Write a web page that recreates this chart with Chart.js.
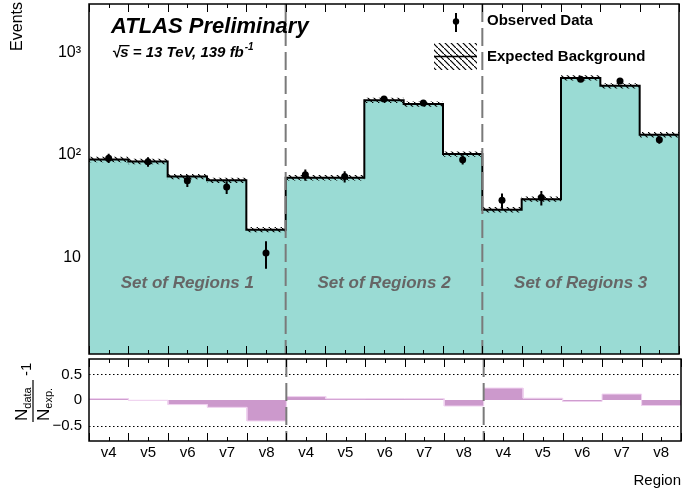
<!DOCTYPE html>
<html>
<head>
<meta charset="utf-8">
<title>Regions</title>
<script src="https://cdn.jsdelivr.net/npm/chart.js@4.4.1/dist/chart.umd.min.js"></script>
<style>
  body { margin: 0; background: #fff; }
  #wrap { position: relative; width: 683px; height: 495px; }
  canvas { position: absolute; left: 0; }
  #mainCanvas { top: 0; }
  #ratioCanvas { top: 358px; }
</style>
</head>
<body>
<div id="wrap">
  <canvas id="mainCanvas" width="683" height="358"></canvas>
  <canvas id="ratioCanvas" width="683" height="137"></canvas>
</div>
<script>
// values
const regions = ['v4', 'v5', 'v6', 'v7', 'v8'];
const setNames = ['Set of Regions 1', 'Set of Regions 2', 'Set of Regions 3'];
const expected = [90.5, 86.5, 61.5, 56.6, 18.6, 60, 60, 343, 315, 102, 29.2, 37, 568, 475, 158];
const expectedErr = [5.4, 5.2, 3.7, 3.4, 1.1, 3.6, 3.6, 20, 19, 6, 1.8, 2.2, 33, 28, 9.5];
const observed = [93, 86, 56, 48.5, 11, 64, 61.5, 352, 323, 90, 36, 38.3, 552, 530, 141];
const observedErr = [9.6, 9.3, 7.5, 7, 3.3, 8, 7.8, 18.8, 18, 9.5, 6, 6.2, 23.5, 23, 11.9];
const logTicks = [10, 100, 1000];
const logTickLabels = ['10', '10\u00b2', '10\u00b3'];
const ratioTicks = [-0.5, 0, 0.5];
const ratioTickLabels = ['\u22120.5', '0', '0.5'];

const binLabels = setNames.flatMap(() => regions);
const nBins = binLabels.length;
const ratio = observed.map((v, i) => v / expected[i] - 1);

const FONT = "'Liberation Sans', Arial, Helvetica, sans-serif";
Chart.defaults.font.family = FONT;
Chart.defaults.color = '#000';

const TEAL = '#9adbd4';
const PINK = '#cc99cc';

// histogram-like step points: each bin goes from i to i+1
function steps(vals) {
  return vals.flatMap((v, i) => [{ x: i, y: v }, { x: i + 1, y: v }]);
}

function hatchPattern(ctx) {
  const s = 6;
  const pc = document.createElement('canvas');
  pc.width = s; pc.height = s;
  const p = pc.getContext('2d');
  p.strokeStyle = '#000';
  p.lineWidth = 1.2;
  p.beginPath();
  p.moveTo(-1, -1); p.lineTo(s + 1, s + 1);
  p.stroke();
  return ctx.createPattern(pc, 'repeat');
}

const mainCtx = document.getElementById('mainCanvas').getContext('2d');
const hatch = hatchPattern(mainCtx);

// ROOT style frame with inside ticks
function drawFrame(chart, yMajor, yMinor) {
  const { ctx, chartArea: a } = chart;
  const xs = chart.scales.x, ys = chart.scales.y;
  ctx.save();
  ctx.strokeStyle = '#000';
  ctx.lineWidth = 1;
  ctx.beginPath();
  for (let i = 0; i <= nBins; i++) {
    const px = Math.round(xs.getPixelForValue(i)) + 0.5;
    ctx.moveTo(px, a.bottom); ctx.lineTo(px, a.bottom - 8);
    ctx.moveTo(px, a.top); ctx.lineTo(px, a.top + 8);
    const pc = Math.round(xs.getPixelForValue(i + 0.5)) + 0.5;
    if (i < nBins) {
      ctx.moveTo(pc, a.bottom); ctx.lineTo(pc, a.bottom - 4);
      ctx.moveTo(pc, a.top); ctx.lineTo(pc, a.top + 4);
    }
  }
  yMajor.forEach(v => {
    const py = Math.round(ys.getPixelForValue(v)) + 0.5;
    ctx.moveTo(a.left, py); ctx.lineTo(a.left + chart.$majorLen, py);
    ctx.moveTo(a.right, py); ctx.lineTo(a.right - chart.$majorLen, py);
  });
  yMinor.forEach(v => {
    const py = Math.round(ys.getPixelForValue(v)) + 0.5;
    ctx.moveTo(a.left, py); ctx.lineTo(a.left + chart.$majorLen / 2, py);
    ctx.moveTo(a.right, py); ctx.lineTo(a.right - chart.$majorLen / 2, py);
  });
  ctx.stroke();
  ctx.lineWidth = 1.5;
  ctx.strokeRect(a.left, a.top, a.right - a.left, a.bottom - a.top);
  ctx.restore();
}

function drawSeparators(chart) {
  const { ctx, chartArea: a } = chart;
  const xs = chart.scales.x;
  ctx.save();
  ctx.strokeStyle = '#7a7a7a';
  ctx.lineWidth = 2;
  ctx.setLineDash([18, 6]);
  for (let k = 1; k < setNames.length; k++) {
    const px = xs.getPixelForValue(k * regions.length);
    ctx.beginPath();
    ctx.moveTo(px, a.top); ctx.lineTo(px, a.bottom);
    ctx.stroke();
  }
  ctx.restore();
}

const mainPlugin = {
  id: 'mainDecor',
  afterDatasetsDraw(chart) { drawSeparators(chart); },
  afterDraw(chart) {
    const ys = chart.scales.y;
    const minor = [];
    [1, 10, 100, 1000].forEach(d => {
      for (let m = 2; m <= 9; m++) {
        const v = m * d;
        if (v > ys.min && v < ys.max) minor.push(v);
      }
    });
    drawFrame(chart, logTicks, minor);

    const { ctx } = chart;
    const xs = chart.scales.x;
    ctx.save();
    ctx.fillStyle = '#000';
    // y title
    ctx.save();
    ctx.translate(18, 2);
    ctx.rotate(-Math.PI / 2);
    ctx.font = '16px ' + FONT;
    ctx.textAlign = 'right';
    ctx.textBaseline = 'middle';
    ctx.fillText('Events', 0, 0);
    ctx.restore();

    ctx.textBaseline = 'alphabetic';
    ctx.textAlign = 'left';
    ctx.font = 'bold italic 22px ' + FONT;
    ctx.fillText('ATLAS Preliminary', 111, 33);

    ctx.font = 'bold italic 15px ' + FONT;
    const root = '\u221a';
    const main = 's = 13 TeV, 139 fb';
    ctx.fillText(root, 112, 57);
    const rw = ctx.measureText(root).width;
    const sw = ctx.measureText('s').width;
    ctx.fillRect(112 + rw - 1, 45, sw + 2, 1.3);
    ctx.fillText(main, 112 + rw, 57);
    const mw = ctx.measureText(main).width;
    ctx.font = 'bold italic 10px ' + FONT;
    ctx.fillText('-1', 112 + rw + mw + 1, 50);

    // legend
    ctx.strokeStyle = '#000';
    ctx.lineWidth = 2;
    ctx.beginPath();
    ctx.moveTo(456, 13); ctx.lineTo(456, 32);
    ctx.stroke();
    ctx.beginPath();
    ctx.arc(456, 21.5, 3.2, 0, Math.PI * 2);
    ctx.fill();
    ctx.fillStyle = hatch;
    ctx.fillRect(434, 43, 43, 27);
    ctx.fillStyle = '#000';
    ctx.lineWidth = 1.5;
    ctx.beginPath();
    ctx.moveTo(434, 56.5); ctx.lineTo(477, 56.5);
    ctx.stroke();
    ctx.font = 'bold 15px ' + FONT;
    ctx.textBaseline = 'middle';
    ctx.fillText('Observed Data', 487, 21);
    ctx.fillText('Expected Background', 487, 57);

    // set captions
    ctx.fillStyle = '#666';
    ctx.font = 'bold italic 17px ' + FONT;
    ctx.textAlign = 'center';
    setNames.forEach((name, k) => {
      const cx = xs.getPixelForValue(k * regions.length + regions.length / 2);
      ctx.fillText(name, cx, 283);
    });
    ctx.restore();
  }
};

const mainChart = new Chart(mainCtx, {
  type: 'line',
  data: {
    datasets: [
      {
        data: steps(expected),
        borderWidth: 0, borderColor: 'rgba(0,0,0,0)',
        backgroundColor: TEAL, fill: 'start', pointRadius: 0, order: 5
      },
      {
        data: steps(expected.map((v, i) => v + expectedErr[i])),
        borderWidth: 0, borderColor: 'rgba(0,0,0,0)', fill: false, pointRadius: 0, order: 4
      },
      {
        data: steps(expected.map((v, i) => v - expectedErr[i])),
        borderWidth: 0, borderColor: 'rgba(0,0,0,0)',
        backgroundColor: hatch, fill: '-1', pointRadius: 0, order: 4
      },
      {
        data: steps(expected),
        borderColor: '#000', borderWidth: 2, fill: false, pointRadius: 0, order: 3
      },
      {
        data: observed.flatMap((v, i) => [
          { x: i + 0.5, y: v - observedErr[i] },
          { x: i + 0.5, y: v + observedErr[i] },
          { x: i + 0.5, y: null }
        ]),
        borderColor: '#000', borderWidth: 2, fill: false, pointRadius: 0, spanGaps: false, order: 1
      },
      {
        data: observed.map((v, i) => ({ x: i + 0.5, y: v })),
        showLine: false, pointRadius: 3.5, pointBorderWidth: 0,
        pointBackgroundColor: '#000', order: 0
      }
    ]
  },
  options: {
    responsive: false,
    animation: false,
    events: [],
    layout: { padding: { top: 2, right: 2, left: 0, bottom: 1 } },
    plugins: { legend: { display: false }, tooltip: { enabled: false } },
    elements: { line: { tension: 0 } },
    scales: {
      x: { type: 'linear', min: 0, max: nBins, display: false },
      y: {
        type: 'logarithmic', min: 1.13, max: 3000,
        afterBuildTicks: s => { s.ticks = logTicks.map(v => ({ value: v })); },
        afterFit: s => { s.width = 89; s.paddingTop = 0; s.paddingBottom = 0; },
        ticks: { callback: (v, i) => logTickLabels[i], font: { size: 16 }, padding: 8, color: '#000' },
        grid: { display: false, drawTicks: false },
        border: { display: false }
      }
    }
  },
  plugins: [mainPlugin]
});
mainChart.$majorLen = 18;

const ratioPlugin = {
  id: 'ratioDecor',
  beforeDatasetsDraw(chart) {
    const { ctx, chartArea: a } = chart;
    const ys = chart.scales.y;
    ctx.save();
    ctx.strokeStyle = '#000';
    ctx.lineWidth = 1;
    ctx.setLineDash([1.5, 2.5]);
    ratioTicks.filter(v => v !== 0).forEach(v => {
      const py = Math.round(ys.getPixelForValue(v)) + 0.5;
      ctx.beginPath();
      ctx.moveTo(a.left, py); ctx.lineTo(a.right, py);
      ctx.stroke();
    });
    ctx.restore();
  },
  afterDatasetsDraw(chart) { drawSeparators(chart); },
  afterDraw(chart) {
    const minor = [];
    for (let t = -7; t <= 7; t++) {
      const v = t / 10;
      if (!ratioTicks.some(r => Math.abs(r - v) < 1e-9)) minor.push(v);
    }
    drawFrame(chart, ratioTicks, minor);

    const { ctx, chartArea: a } = chart;
    ctx.save();
    ctx.fillStyle = '#000';
    ctx.font = '15px ' + FONT;
    ctx.textAlign = 'right';
    ctx.textBaseline = 'middle';
    ctx.fillText('Region', a.right, 123);

    // fraction title, rotated
    ctx.translate(33, (a.top + a.bottom) / 2 + 1);
    ctx.rotate(-Math.PI / 2);
    ctx.textAlign = 'left';
    ctx.textBaseline = 'alphabetic';
    ctx.font = '17px ' + FONT;
    const nw = ctx.measureText('N').width;
    ctx.fillText('N', -20, -6);
    ctx.font = '11px ' + FONT;
    ctx.fillText('data', -20 + nw, -2.5);
    ctx.font = '17px ' + FONT;
    ctx.fillText('N', -20, 16);
    ctx.font = '11px ' + FONT;
    ctx.fillText('exp.', -20 + nw, 19);
    ctx.fillRect(-21, -0.6, 42, 1.2);
    ctx.font = '15px ' + FONT;
    ctx.fillText('-1', 25, -2);
    ctx.restore();
  }
};

const ratioChart = new Chart(document.getElementById('ratioCanvas'), {
  type: 'line',
  data: {
    datasets: [
      {
        data: steps(ratio),
        borderColor: '#f0d2f0', borderWidth: 1,
        backgroundColor: PINK, fill: { value: 0 }, pointRadius: 0
      }
    ]
  },
  options: {
    responsive: false,
    animation: false,
    events: [],
    layout: { padding: { top: 1, right: 2, left: 0, bottom: 0 } },
    plugins: { legend: { display: false }, tooltip: { enabled: false } },
    elements: { line: { tension: 0 } },
    scales: {
      x: {
        type: 'linear', min: 0, max: nBins,
        afterBuildTicks: s => { s.ticks = binLabels.map((_, i) => ({ value: i + 0.5 })); },
        afterFit: s => { s.height = 54; s.paddingLeft = 0; s.paddingRight = 0; },
        ticks: { callback: (v, i) => binLabels[i], font: { size: 15 }, padding: 3, maxRotation: 0, autoSkip: false, color: '#000' },
        grid: { display: false, drawTicks: false },
        border: { display: false }
      },
      y: {
        type: 'linear', min: -0.8, max: 0.8,
        afterBuildTicks: s => { s.ticks = ratioTicks.map(v => ({ value: v })); },
        afterFit: s => { s.width = 89; s.paddingTop = 0; s.paddingBottom = 0; },
        ticks: { callback: (v, i) => ratioTickLabels[i], font: { size: 15 }, padding: 7, color: '#000' },
        grid: { display: false, drawTicks: false },
        border: { display: false }
      }
    }
  },
  plugins: [ratioPlugin]
});
ratioChart.$majorLen = 12;
</script>
</body>
</html>
